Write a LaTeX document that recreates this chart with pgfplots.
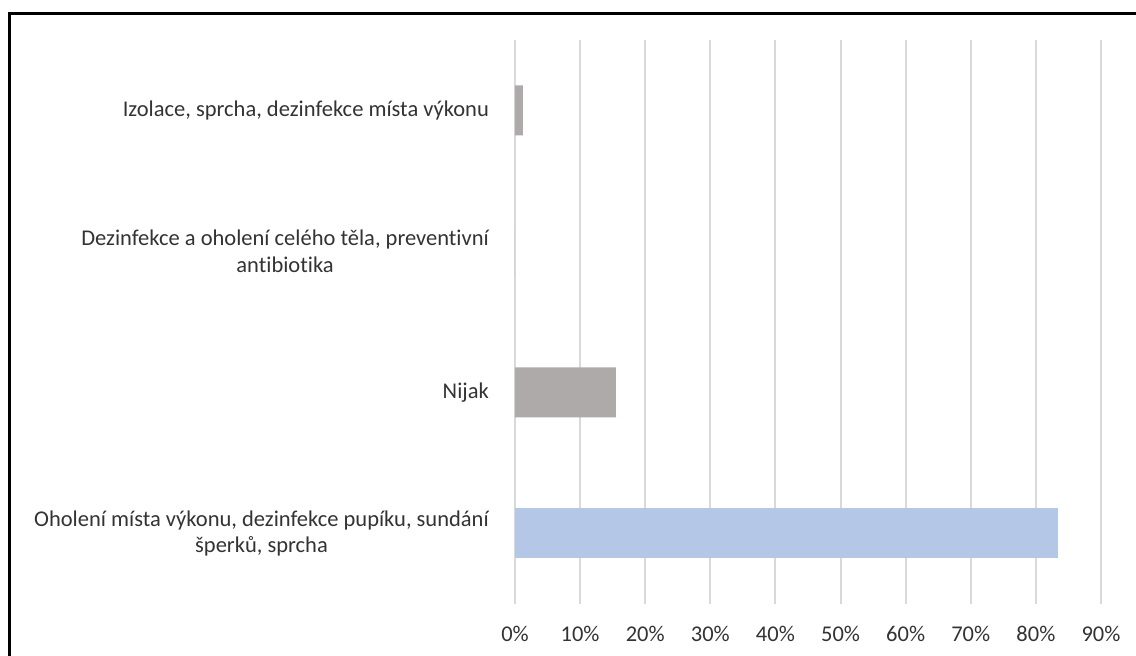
\documentclass[border=0pt]{standalone}
\usepackage{pgfplots}
\pgfplotsset{compat=1.18}
\usepackage{fontspec}
\setmainfont{Carlito}[Ligatures=NoCommon]
\definecolor{bargray}{HTML}{AEAAAA}
\definecolor{barblue}{HTML}{B4C7E7}
\definecolor{gridgray}{HTML}{D9D9D9}
\definecolor{txt}{HTML}{333333}
\begin{document}
\begin{tikzpicture}[x=1pt,y=1pt]
\useasboundingbox (0,0) rectangle (1136,656);
\draw[line width=3pt] (9.5,-10) -- (9.5,642.5) -- (1150,642.5);
\begin{axis}[
  at={(515pt,52pt)}, anchor=south west,
  scale only axis, width=586pt, height=564pt,
  xbar, bar width=50pt, bar shift=0pt,
  xmin=0, xmax=90, ymin=-0.5, ymax=3.5,
  axis line style={draw=none},
  xtick={0,10,...,90},
  xticklabels={0\%,10\%,20\%,30\%,40\%,50\%,60\%,70\%,80\%,90\%},
  ytick={0,1,2,3},
  yticklabels={{Oholení místa výkonu, dezinfekce pupíku, sundání\\šperků, sprcha},{Nijak},{Dezinfekce a oholení celého těla, preventivní\\antibiotika},{Izolace, sprcha, dezinfekce místa výkonu}},
  major tick length=0pt,
  xmajorgrids, major grid style={gridgray, line width=2pt},
  tick label style={font=\fontsize{22.5}{26.5}\selectfont, text=txt},
  xticklabel style={anchor=base, yshift=-38pt, inner sep=0pt},
  yticklabel style={align=center, anchor=east, xshift=-26pt, inner sep=0pt},
]
\addplot[fill=bargray, draw=none] coordinates {(1.2,3) (0,2) (15.5,1)};
\addplot[fill=barblue, draw=none] coordinates {(83.4,0)};
\end{axis}
\end{tikzpicture}
\end{document}
